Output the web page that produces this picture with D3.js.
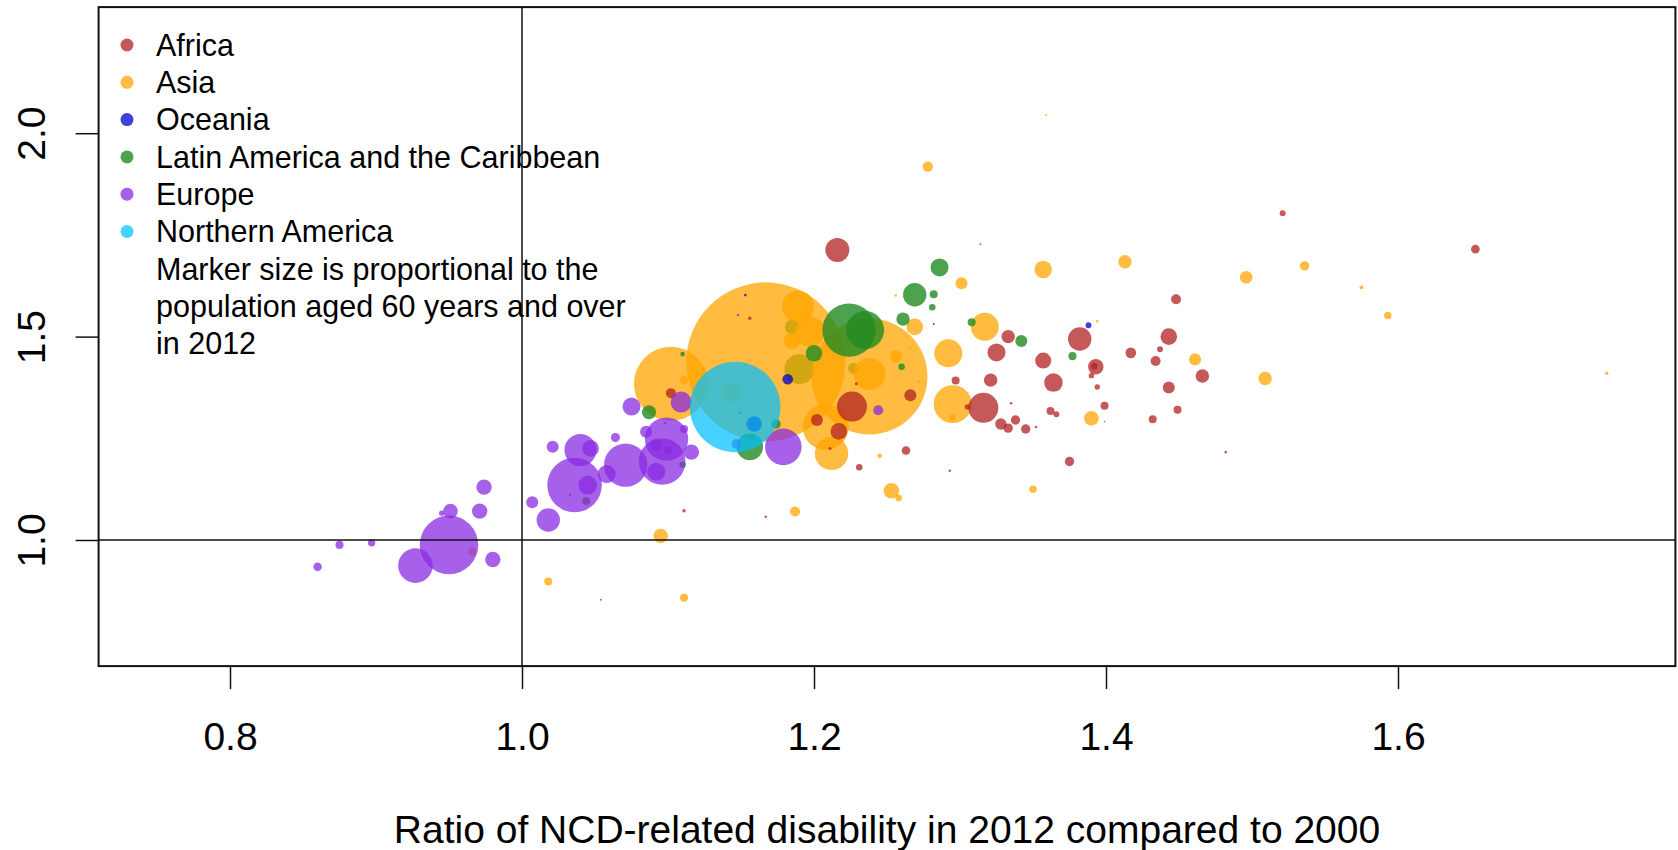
<!DOCTYPE html>
<html><head><meta charset="utf-8">
<script src="https://cdn.jsdelivr.net/npm/d3@7"></script>
<style>body{margin:0;background:#fff;} svg{display:block;font-family:"Liberation Sans",Arial,sans-serif;}</style>
</head><body><svg id="c" width="1678" height="850"></svg>
<script>
const regionNames = ["Africa","Asia","Oceania","Latin America and the Caribbean","Europe","Northern America"];
const noteLines = ["Marker size is proportional to the","population aged 60 years and over","in 2012"];
const xTicks = [0.8,1.0,1.2,1.4,1.6];
const yTicks = [1.0,1.5,2.0];
const xTitle = "Ratio of NCD-related disability in 2012 compared to 2000";

// [x ratio (NCD disability 2012/2000), y ratio, population aged 60+ (millions)]
const africa = [
[1.216,1.713,4.4],[1.521,1.803,0.27],[1.653,1.715,0.56],[1.448,1.592,0.76],[1.443,1.500,2.1],
[1.417,1.460,0.86],[1.437,1.469,0.27],[1.434,1.440,0.76],[1.466,1.403,1.37],[1.393,1.426,1.81],
[1.392,1.427,0.33],[1.390,1.404,0.22],[1.394,1.376,0.22],[1.399,1.330,0.49],[1.443,1.375,1.1],
[1.449,1.320,0.49],[1.432,1.297,0.49],[1.482,1.216,0.05],[1.382,1.494,4.17],[1.357,1.441,1.95],
[1.364,1.387,2.63],[1.362,1.317,0.49],[1.366,1.309,0.27],[1.375,1.193,0.67],[1.333,1.500,1.37],
[1.325,1.461,2.47],[1.321,1.393,1.37],[1.316,1.325,6.85],[1.335,1.336,0.05],[1.328,1.285,0.99],
[1.333,1.275,0.67],[1.338,1.295,0.67],[1.345,1.273,0.67],[1.352,1.278,0.05],[1.297,1.392,0.49],
[1.305,1.327,0.22],[1.293,1.170,0.05],[1.266,1.356,1.1],[1.263,1.220,0.56],[1.231,1.179,0.33],
[1.226,1.328,6.85],[1.202,1.295,1.1],[1.217,1.267,2.1],[1.211,1.225,0.07],[1.229,1.384,0.07],
[1.156,1.545,0.09],[1.111,1.072,0.09],[1.167,1.057,0.05],[1.102,1.361,0.76]
];
const asia = [
[1.167,1.438,192.5],[1.238,1.402,102.5],[1.102,1.384,41.7],[1.208,1.278,16.1],[1.212,1.213,8.5],
[1.189,1.574,7.8],[1.197,1.512,6.85],[1.185,1.490,2.1],[1.238,1.408,7.8],[1.256,1.451,1.1],
[1.269,1.524,2.1],[1.256,1.601,0.05],[1.266,1.470,0.05],[1.272,1.389,0.05],[1.245,1.207,0.16],
[1.253,1.121,1.81],[1.258,1.103,0.33],[1.187,1.070,0.76],[1.095,1.010,1.62],[1.018,0.898,0.49],
[1.111,0.858,0.49],[0.966,0.971,0.49],[1.143,1.361,3.05],[1.111,1.393,0.49],[1.292,1.459,5.97],
[1.295,1.334,11.0],[1.295,1.301,0.33],[1.317,1.524,5.97],[1.301,1.631,1.1],[1.278,1.918,0.82],
[1.359,2.045,0.03],[1.357,1.665,2.31],[1.413,1.684,1.37],[1.394,1.538,0.05],[1.390,1.299,1.62],
[1.350,1.125,0.42],[1.461,1.444,1.1],[1.496,1.646,1.21],[1.509,1.397,1.37],[1.536,1.674,0.67],
[1.575,1.621,0.12],[1.593,1.552,0.42],[1.743,1.410,0.09]
];
const oceania = [
[1.182,1.395,0.86],[1.159,1.285,1.81],[1.153,1.602,0.05],[1.149,1.313,0.03],[1.282,1.531,0.03],
[1.388,1.528,0.27],[1.033,1.111,0.03]
];
// Latin American countries whose markers lie underneath the large Asian markers
const latinAmericaBelow = [
[1.190,1.420,6.85],[1.185,1.524,1.62],[1.227,1.422,0.86]
];
const latinAmerica = [
[1.224,1.516,21.7],[1.235,1.516,11.0],[1.200,1.459,2.1],
[1.260,1.426,0.33],[1.261,1.543,1.37],[1.269,1.603,4.17],[1.282,1.604,0.49],
[1.281,1.572,0.33],[1.286,1.670,2.47],[1.314,1.727,0.03],[1.308,1.535,0.49],[1.342,1.489,1.1],
[1.377,1.452,0.49],[1.399,1.291,0.02],[1.156,1.229,5.39],[1.174,1.285,0.67],[1.110,1.457,0.16],
[1.087,1.314,1.49],[1.098,1.287,0.05],[1.110,1.185,0.33],[1.044,1.096,0.49],[1.054,0.853,0.03]
];
const europe = [
[0.950,0.988,26.1],[0.927,0.937,9.1],[0.974,1.130,1.81],[0.971,1.071,1.81],[0.951,1.071,1.62],
[0.945,1.066,0.22],[0.980,0.952,1.81],[0.897,0.993,0.42],[0.875,0.988,0.49],[0.860,0.934,0.56],
[1.007,1.093,1.1],[1.018,1.049,4.17],[1.021,1.229,1.1],[1.036,1.135,22.7],[1.040,1.221,7.8],
[1.047,1.225,2.1],[1.045,1.135,2.63],[1.058,1.162,2.47],[1.071,1.184,14.3],[1.064,1.252,0.62],
[1.075,1.328,2.47],[1.092,1.168,2.47],[1.096,1.193,16.5],[1.099,1.248,14.3],[1.092,1.234,1.1],
[1.100,1.221,0.49],[1.116,1.216,1.81],[1.085,1.266,1.1],[1.109,1.339,3.36],[1.111,1.273,0.49],
[1.179,1.229,10.2],[1.147,1.236,0.76],[1.244,1.319,0.76],[1.148,1.553,0.05]
];
const northernAmerica = [
[1.146,1.327,62.5]
];

const regionColors = ["rgba(178,34,34,0.75)","rgba(255,165,0,0.75)","rgba(0,0,205,0.75)",
  "rgba(34,139,34,0.8)","rgba(138,43,226,0.75)","rgba(0,191,255,0.72)"];
// [data array, region index] in drawing order
const layers = [[latinAmericaBelow,3],[asia,1],[africa,0],[oceania,2],[latinAmerica,3],[europe,4],[northernAmerica,5]];

const svg = d3.select("#c");
const L = 98.6, R = 1675.4, T = 7.1, B = 666.1;
const x = d3.scaleLinear().domain([0.71,1.79]).range([L,R]);
const y = d3.scaleLinear().domain([0.69,2.31]).range([B,T]);
const r = d3.scaleSqrt().domain([0,200]).range([0,81]);

svg.append("defs").append("clipPath").attr("id","clip")
  .append("rect").attr("x",L).attr("y",T).attr("width",R-L).attr("height",B-T);

const pts = [];
layers.forEach(([arr,i]) => {
  arr.slice().sort((a,b)=>b[2]-a[2])
    .forEach(d => pts.push({x:d[0], y:d[1], p:d[2], c:i}));
});

const g = svg.append("g").attr("clip-path","url(#clip)");
g.selectAll("circle.pt").data(pts).join("circle").attr("class","pt")
  .attr("cx",d=>x(d.x)).attr("cy",d=>y(d.y)).attr("r",d=>r(d.p))
  .attr("fill",d=>regionColors[d.c]);

g.append("line").attr("x1",x(1)).attr("x2",x(1)).attr("y1",T).attr("y2",B)
  .attr("stroke","#111").attr("stroke-width",1.5);
g.append("line").attr("x1",L).attr("x2",R).attr("y1",y(1)).attr("y2",y(1))
  .attr("stroke","#111").attr("stroke-width",1.5);

svg.append("rect").attr("x",L).attr("y",T).attr("width",R-L).attr("height",B-T)
  .attr("fill","none").attr("stroke","#111").attr("stroke-width",2);

const fmt = d3.format(".1f");
const xa = svg.append("g").attr("transform",`translate(0,${B})`)
  .call(d3.axisBottom(x).tickValues(xTicks).tickSize(23).tickSizeOuter(0).tickFormat(fmt));
xa.select(".domain").remove();
xa.selectAll(".tick line").attr("stroke","#111").attr("stroke-width",1.5);
xa.selectAll(".tick text").attr("y",84).attr("dy",null)
  .attr("font-size",39).attr("font-family",'"Liberation Sans",Arial,sans-serif').attr("fill","#000");

const ya = svg.append("g").attr("transform",`translate(${L},0)`)
  .call(d3.axisLeft(y).tickValues(yTicks).tickSize(23).tickSizeOuter(0).tickFormat(fmt));
ya.select(".domain").remove();
ya.selectAll(".tick line").attr("stroke","#111").attr("stroke-width",1.5);
ya.selectAll(".tick text").attr("x",0).attr("y",-54).attr("dy",null)
  .attr("transform","rotate(-90)").attr("text-anchor","middle")
  .attr("font-size",39).attr("font-family",'"Liberation Sans",Arial,sans-serif').attr("fill","#000");

svg.append("text").attr("x",(L+R)/2).attr("y",843).attr("text-anchor","middle")
  .attr("font-size",39).attr("fill","#000").text(xTitle);

const leg = svg.append("g");
const rowH = 37.3, row0 = 45, fs = 30.5;
regionNames.forEach((n,i) => {
  const cy = row0 + i*rowH;
  leg.append("circle").attr("cx",127).attr("cy",cy).attr("r",6.5).attr("fill",regionColors[i]);
  leg.append("text").attr("x",156).attr("y",cy + 0.355*fs).attr("font-size",fs).attr("fill","#000").text(n);
});
noteLines.forEach((t,j) => {
  const cy = row0 + (regionNames.length + j)*rowH;
  leg.append("text").attr("x",156).attr("y",cy + 0.355*fs).attr("font-size",fs).attr("fill","#000").text(t);
});
</script>
</body></html>
